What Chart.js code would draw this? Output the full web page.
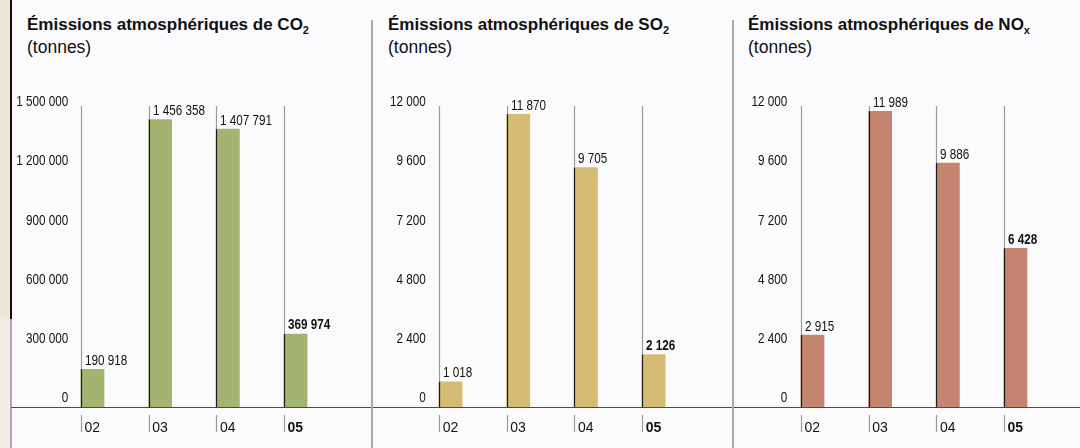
<!DOCTYPE html>
<html lang="fr">
<head>
<meta charset="utf-8">
<script src="https://cdn.jsdelivr.net/npm/chart.js@4.4.1/dist/chart.umd.min.js"></script>
<style>
  html, body { margin: 0; padding: 0; }
  body { width: 1080px; height: 448px; background: #fbfbfd; position: relative; overflow: hidden;
         font-family: "Liberation Sans", Arial, sans-serif; }
  .strip-top { position: absolute; left: 0; top: 0; width: 10px; height: 319px; background: #ebe8d6; }
  .strip-bot { position: absolute; left: 0; top: 319px; width: 10px; height: 129px; background: #f0eee3; }
  .edge-top { position: absolute; left: 10px; top: 0; width: 1.5px; height: 319px; background: #111; }
  .edge-bot { position: absolute; left: 10px; top: 319px; width: 1.5px; height: 129px; background: #aaa; }
  .sep { position: absolute; top: 20px; width: 2px; height: 428px; background: #a9a9a9; z-index: 2; }
  .panel { position: absolute; top: 60px; height: 388px; }
  .title { position: absolute; top: 14px; color: #111; }
  .title .t1 { font-weight: bold; font-size: 17px; line-height: 22px; white-space: nowrap; }
  .title .t1 sub { font-size: 11px; line-height: 0; vertical-align: -4px; }
  .title .t2 { font-size: 17.5px; line-height: 22px; }
</style>
</head>
<body>
<div class="strip-top"></div><div class="strip-bot"></div>
<div class="edge-top"></div><div class="edge-bot"></div>
<div class="sep" style="left:371px"></div>
<div class="sep" style="left:732px"></div>

<div class="title" style="left:27px"><div class="t1">Émissions atmosphériques de CO<sub>2</sub></div><div class="t2">(tonnes)</div></div>
<div class="title" style="left:388px"><div class="t1">Émissions atmosphériques de SO<sub>2</sub></div><div class="t2">(tonnes)</div></div>
<div class="title" style="left:748px"><div class="t1">Émissions atmosphériques de NO<sub>x</sub></div><div class="t2">(tonnes)</div></div>

<div class="panel" style="left:11px;width:361px"><canvas id="c1"></canvas></div>
<div class="panel" style="left:373px;width:360px"><canvas id="c2"></canvas></div>
<div class="panel" style="left:734px;width:346px"><canvas id="c3"></canvas></div>

<script>
// ---- Data ----
const years = ["02", "03", "04", "05"];
const co2 = [190918, 1456358, 1407791, 369974];
const so2 = [1018, 11870, 9705, 2126];
const nox = [2915, 11989, 9886, 6428];
const co2Ticks = [0, 300000, 600000, 900000, 1200000, 1500000];
const so2Ticks = [0, 2400, 4800, 7200, 9600, 12000];
const noxTicks = [0, 2400, 4800, 7200, 9600, 12000];

// ---- Styles ----
const FONT = '"Liberation Sans", Arial, sans-serif';
const NARROW = 0.78;
const fmt = v => String(Math.round(v)).replace(/\B(?=(\d{3})+(?!\d))/g, " ");

function narrowText(ctx, text, x, y, align, baseline, bold) {
  ctx.save();
  ctx.translate(x, y);
  ctx.scale(NARROW, 1);
  ctx.font = (bold ? 'bold ' : '') + '15px ' + FONT;
  ctx.textAlign = align;
  ctx.textBaseline = baseline;
  ctx.fillStyle = '#111';
  ctx.fillText(text, 0, 0);
  ctx.restore();
}

function makeChart(id, values, ticks, color, layout) {
  const overlay = {
    id: 'overlay',
    beforeDatasetsDraw(chart) {
      const { ctx, chartArea } = chart;
      const yScale = chart.scales.y;
      const y0 = yScale.getPixelForValue(0);
      const meta = chart.getDatasetMeta(0);
      ctx.save();
      ctx.strokeStyle = '#9a9a9a';
      ctx.lineWidth = 1.2;
      meta.data.forEach(bar => {
        const x = Math.round(bar.x - bar.width / 2) + 0.5;
        ctx.beginPath();
        ctx.moveTo(x, chartArea.top - 5);
        ctx.lineTo(x, y0);
        ctx.moveTo(x, y0 + 8);
        ctx.lineTo(x, y0 + 25);
        ctx.stroke();
      });
      ctx.restore();
      // y tick labels (from the library's scale), right-aligned just inside the plot
      yScale.ticks.forEach(t => {
        narrowText(ctx, fmt(t.value), chartArea.left + layout.tickRight,
                   yScale.getPixelForValue(t.value) - 9, 'right', 'middle', false);
      });
    },
    afterDatasetsDraw(chart) {
      const { ctx } = chart;
      const y0 = chart.scales.y.getPixelForValue(0);
      const meta = chart.getDatasetMeta(0);
      ctx.save();
      ctx.strokeStyle = '#4a4a4a';
      ctx.lineWidth = 1;
      ctx.beginPath();
      ctx.moveTo(0, Math.round(y0) + 0.5);
      ctx.lineTo(chart.width, Math.round(y0) + 0.5);
      ctx.stroke();
      meta.data.forEach((bar, i) => {
        const x = Math.round(bar.x - bar.width / 2) + 0.5;
        ctx.strokeStyle = '#1a1a1a';
        ctx.lineWidth = 1.2;
        ctx.beginPath();
        ctx.moveTo(x, bar.y);
        ctx.lineTo(x, y0);
        ctx.stroke();
        narrowText(ctx, fmt(values[i]), x + 3.5, bar.y - 4.5, 'left', 'alphabetic', i === values.length - 1);
      });
      ctx.restore();
    }
  };

  return new Chart(document.getElementById(id), {
    type: 'bar',
    data: {
      labels: years,
      datasets: [{ data: values, backgroundColor: color, borderWidth: 0, barThickness: 23 }]
    },
    options: {
      responsive: true,
      maintainAspectRatio: false,
      animation: false,
      events: [],
      layout: { padding: { top: 51, right: layout.padRight, bottom: 0, left: 0 } },
      plugins: { legend: { display: false }, tooltip: { enabled: false }, title: { display: false } },
      scales: {
        x: {
          type: 'category',
          offset: true,
          grid: { display: false, drawTicks: false },
          border: { display: false },
          ticks: {
            autoSkip: false, maxRotation: 0, minRotation: 0,
            align: 'start',
            labelOffset: -8,
            padding: 13,
            color: '#111',
            font: ctx => ({ family: FONT, size: 14, weight: ctx.index === years.length - 1 ? 'bold' : 'normal' })
          },
          afterFit: s => { s.height = 41; }
        },
        y: {
          min: ticks[0],
          max: ticks[ticks.length - 1],
          afterBuildTicks: s => { s.ticks = ticks.map(v => ({ value: v })); },
          grid: { display: false, drawTicks: false },
          border: { display: false },
          ticks: { display: false },
          afterFit: s => { s.width = layout.chartLeft; }
        }
      }
    },
    plugins: [overlay]
  });
}

makeChart('c1', co2, co2Ticks, '#a3b370', { chartLeft: 47.7, padRight: 42.6, tickRight: 9.5 });
makeChart('c2', so2, so2Ticks, '#d6bb74', { chartLeft: 43.8, padRight: 45.5, tickRight: 9 });
makeChart('c3', nox, noxTicks, '#c58470', { chartLeft: 44.7, padRight: 30.6, tickRight: 8.5 });
</script>
</body>
</html>
